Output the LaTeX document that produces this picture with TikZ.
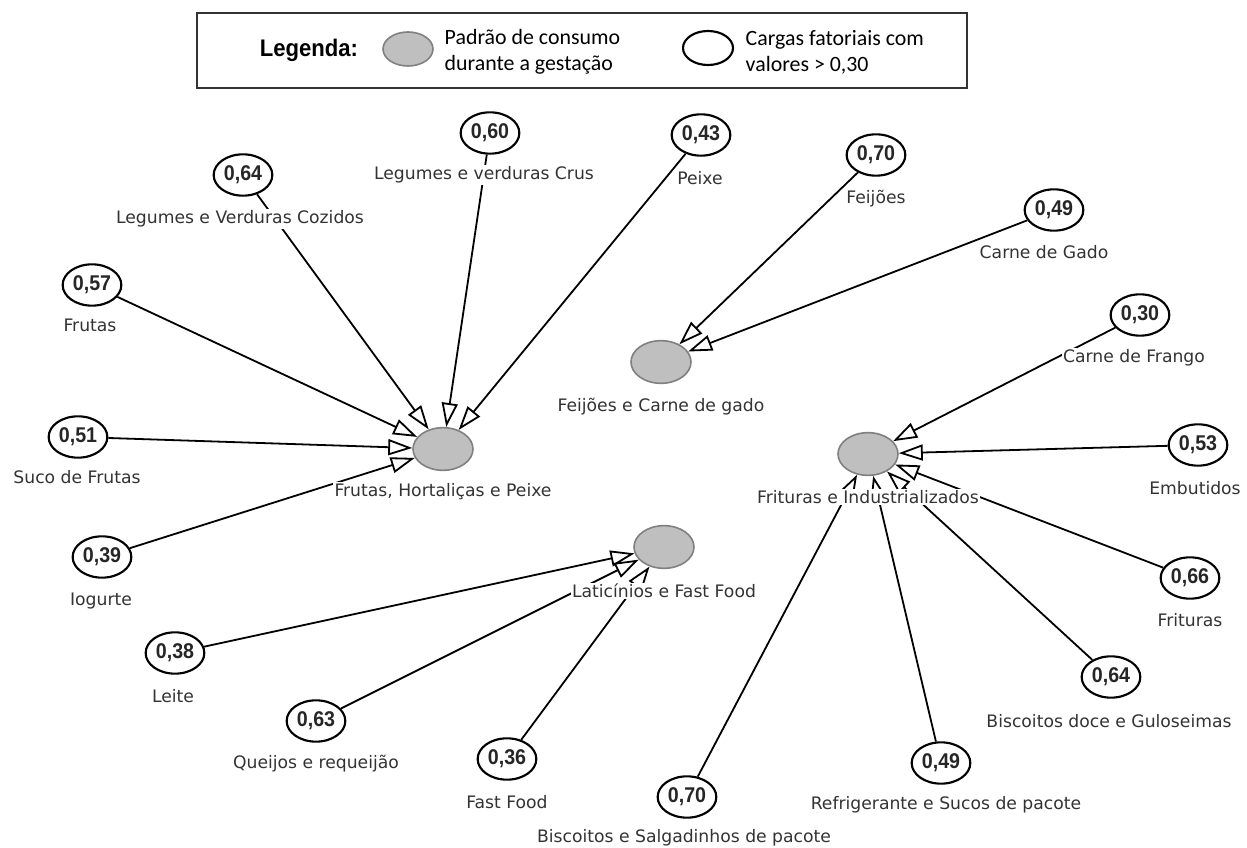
\documentclass[tikz,border=0pt]{standalone}
\usepackage{fontspec}
\setmainfont{DejaVu Sans}
\newfontfamily\legfont{Carlito}
\newfontfamily\numfont{Liberation Sans}[FakeStretch=0.92]
\usetikzlibrary{shapes.geometric,arrows.meta}

\begin{document}
\begin{tikzpicture}[x=0.75pt,y=-0.75pt,
    factor/.style={ellipse,draw=black!50,fill=black!25,line width=1.2pt,
      minimum width=45pt,minimum height=32pt,inner sep=0pt},
    loading/.style={ellipse,draw=black,fill=white,line width=1.6pt,
      minimum width=44pt,minimum height=31pt,inner sep=0pt,text=black!85,
      font=\numfont\bfseries\fontsize{16}{16}\selectfont},
    lab/.style={fill=white,inner sep=1pt,text=black!80,
      font=\fontsize{12.9}{14}\selectfont},
    load/.style={line width=1.35pt,
      -{Triangle[length=18pt,width=12pt,fill=white]}}]
  \useasboundingbox (0,0) rectangle (1247,848);

  % legenda
  \draw[line width=0.8pt,draw=black!80] (197,13) rectangle (967,88);
  \node[font=\numfont\bfseries\fontsize{18}{18}\selectfont] (legtitle) at (309,50) {Legenda:};
  \node[factor,minimum width=37.5pt,minimum height=25.5pt] (legfactor) at (408,49) {};
  \node[anchor=west,align=left,font=\legfont\fontsize{16.4}{19.5}\selectfont]
    (legfactortext) at (440,52) {Padrão de consumo\\durante a gestação};
  \node[loading,minimum width=37.5pt,minimum height=25.5pt] (legloading) at (708,48) {};
  \node[anchor=west,align=left,font=\legfont\fontsize{16.4}{19.5}\selectfont]
    (legloadingtext) at (741,52) {Cargas fatoriais com\\valores > 0,30};

  % padroes
  \node[factor] (fhp) at (443,449) {};
  \node[factor] (fcg) at (661,362) {};
  \node[factor] (fin) at (868,454) {};
  \node[factor] (flf) at (664,547) {};

  % cargas fatoriais
  \node[loading] (cozidos) at (243,175) {0,64};
  \node[loading] (crus) at (490,133) {0,60};
  \node[loading] (peixe) at (701,135) {0,43};
  \node[loading] (frutas) at (92,285) {0,57};
  \node[loading] (suco) at (78,437) {0,51};
  \node[loading] (iogurte) at (102,557) {0,39};
  \node[loading] (feijoes) at (876,155) {0,70};
  \node[loading] (gado) at (1054,210) {0,49};
  \node[loading] (frango) at (1140,315) {0,30};
  \node[loading] (embutidos) at (1198,445) {0,53};
  \node[loading] (frituras) at (1190,578) {0,66};
  \node[loading] (doces) at (1111,677) {0,64};
  \node[loading] (refri) at (941,763) {0,49};
  \node[loading] (salgad) at (687,797) {0,70};
  \node[loading] (leite) at (175,653) {0,38};
  \node[loading] (queijos) at (316,721) {0,63};
  \node[loading] (fastfood) at (507,759) {0,36};

  \foreach \src/\dst in {cozidos/fhp,crus/fhp,peixe/fhp,frutas/fhp,suco/fhp,iogurte/fhp,
      feijoes/fcg,gado/fcg,
      frango/fin,embutidos/fin,frituras/fin,doces/fin,refri/fin,salgad/fin,
      leite/flf,queijos/flf,fastfood/flf}
    \draw[load] (\src) -- (\dst);

  % rotulos
  \node[lab] (fhplab) at (443,492) {Frutas, Hortaliças e Peixe};
  \node[lab] (fcglab) at (661,407) {Feijões e Carne de gado};
  \node[lab] (finlab) at (868,497) {Frituras e Industrializados};
  \node[lab] (flflab) at (664,591) {Laticínios e Fast Food};
  \node[lab] (cozidoslab) at (240,219) {Legumes e Verduras Cozidos};
  \node[lab] (cruslab) at (484,175) {Legumes e verduras Crus};
  \node[lab] (peixelab) at (700,178) {Peixe};
  \node[lab] (frutaslab) at (90,325) {Frutas};
  \node[lab] (sucolab) at (77,477) {Suco de Frutas};
  \node[lab] (iogurtelab) at (101,601) {Iogurte};
  \node[lab] (feijoeslab) at (876,199) {Feijões};
  \node[lab] (gadolab) at (1044,252) {Carne de Gado};
  \node[lab] (frangolab) at (1134,358) {Carne de Frango};
  \node[lab] (embutidoslab) at (1195,488) {Embutidos};
  \node[lab] (friturasl) at (1190,620) {Frituras};
  \node[lab] (doceslab) at (1109,721) {Biscoitos doce e Guloseimas};
  \node[lab] (refrilab) at (946,805) {Refrigerante e Sucos de pacote};
  \node[lab] (salgadlab) at (684,838) {Biscoitos e Salgadinhos de pacote};
  \node[lab] (leitelab) at (173,696) {Leite};
  \node[lab] (queijoslab) at (316,764) {Queijos e requeijão};
  \node[lab] (fastfoodlab) at (507,802) {Fast Food};
\end{tikzpicture}
\end{document}
